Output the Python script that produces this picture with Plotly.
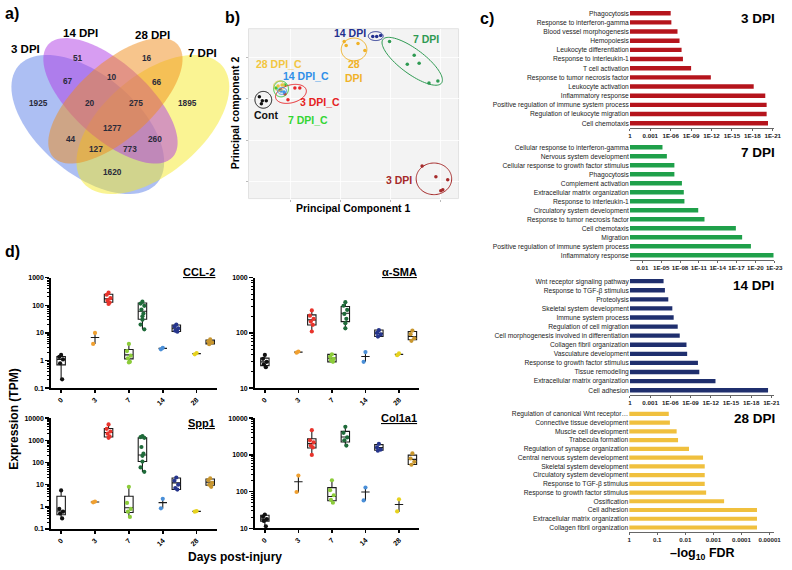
import numpy as np
import plotly.graph_objects as go

W, H = 792, 570
FONT = "Liberation Sans"


def fx(x):
    return x / W


def fy(y):
    return 1 - y / H


# ------------------------------------------------------------------ data
# a) Venn
VENN_SETS = ["3 DPI", "14 DPI", "28 DPI", "7 DPI"]
VENN_COUNTS = [51, 16, 67, 10, 66, 1925, 20, 275, 1895, 1277, 44, 260, 127, 773, 1620]

# b) PCA (arbitrary PC units)
PCA_GROUPS = ["Cont", "3 DPI_C", "7 DPI_C", "14 DPI_C", "28 DPI_C", "3 DPI", "7 DPI", "14 DPI", "28 DPI"]
PC1_CONT, PC2_CONT = [11, 14, 18, 13], [103, 99, 99, 96]
PC1_3C, PC2_3C = [40, 47, 52, 37], [100, 112, 112, 106]
PC1_7C, PC2_7C = [28, 32, 37], [112, 110, 115]
PC1_14C, PC2_14C = [33, 36], [109, 108]
PC1_28C, PC2_28C = [30, 34], [114, 115]
PC1_3D, PC2_3D = [176, 190, 202, 197, 195], [33, 22, 19, 9, 8]
PC1_7D, PC2_7D = [143, 168, 161, 173, 183, 192], [159, 145, 136, 137, 117, 119]
PC1_14D, PC2_14D = [126, 130, 134], [164, 164, 165]
PC1_28D, PC2_28D = [97, 99, 118, 111], [159, 155, 150, 157]

# c) GO enrichment (-log10 FDR)
BAR3_TERMS = ["Phagocytosis", "Response to interferon-gamma", "Blood vessel morphogenesis", "Hemopoiesis",
              "Leukocyte differentiation", "Response to interleukin-1", "T cell activation",
              "Response to tumor necrosis factor", "Leukocyte activation", "Inflammatory response",
              "Positive regulation of immune system process", "Regulation of leukocyte migration",
              "Cell chemotaxis"]
BAR3_VALS = [6.0, 6.1, 7.0, 7.3, 7.6, 7.8, 9.0, 11.9, 18.2, 19.9, 20.1, 20.1, 20.3]

BAR7_TERMS = ["Cellular response to interferon-gamma", "Nervous system development",
              "Cellular response to growth factor stimulus", "Phagocytosis", "Complement activation",
              "Extracellular matrix organization", "Response to interleukin-1",
              "Circulatory system development", "Response to tumor necrosis factor", "Cell chemotaxis",
              "Migration", "Positive regulation of immune system process", "Inflammatory response"]
BAR7_VALS = [5.2, 5.9, 7.1, 7.1, 8.3, 8.6, 8.7, 10.9, 11.9, 16.9, 17.9, 19.3, 22.9]

BAR14_TERMS = ["Wnt receptor signaling pathway", "Response to TGF-β stimulus", "Proteolysis",
               "Skeletal system development", "Immune system process", "Regulation of cell migration",
               "Cell morphogenesis involved in differentiation", "Collagen fibril organization",
               "Vasculature development", "Response to growth factor stimulus", "Tissue remodeling",
               "Extracellular matrix organization", "Cell adhesion"]
BAR14_VALS = [5.0, 5.2, 5.7, 6.3, 6.5, 7.1, 7.4, 8.4, 8.5, 10.1, 10.3, 12.7, 20.5]

BAR28_TERMS = ["Regulation of canonical Wnt receptor…", "Connective tissue development",
               "Muscle cell development", "Trabecula formation", "Regulation of synapse organization",
               "Central nervous system development", "Skeletal system development",
               "Circulatory system development", "Response to TGF-β stimulus",
               "Response to growth factor stimulus", "Ossification", "Cell adhesion",
               "Extracellular matrix organization", "Collagen fibril organization"]
BAR28_VALS = [1.41, 1.45, 1.69, 1.74, 2.13, 2.63, 2.69, 2.69, 2.69, 2.74, 3.38, 4.55, 4.55, 4.55]

TICKS_A = [0, 3, 6, 9, 12, 15, 18, 21]
TICKTEXT_A = ["1", "0.001", "1E-06", "1E-09", "1E-12", "1E-15", "1E-18", "1E-21"]
TICKS_B = [2, 5, 8, 11, 14, 17, 20, 23]
TICKTEXT_B = ["0.01", "1E-05", "1E-08", "1E-11", "1E-14", "1E-17", "1E-20", "1E-23"]
TICKS_C = [0, 1, 2, 3, 4, 5]
TICKTEXT_C = ["1", "0.1", "0.01", "0.001", "0.0001", "0.00001"]

# d) expression boxes: (lower whisker, q1, median, q3, upper whisker)
DAY_LABELS = ["0", "3", "7", "14", "28"]
BOX_GROUPS = ["0", "3 C", "3", "7 C", "7", "14 C", "14", "28 C", "28"]
CCL2_STATS = [(0.21, 0.7, 1.1, 1.4, 1.6), (4.0, 6.8, 6.8, 6.8, 10), (112, 128, 170, 250, 290),
              (0.83, 1.15, 1.6, 2.5, 4.0), (13.5, 31, 61, 120, 138), (2.5, 2.75, 2.75, 2.75, 2.9),
              (10.4, 11.2, 14.8, 19.4, 20.5), (1.65, 1.78, 1.78, 1.78, 1.9), (3.7, 4.0, 4.7, 5.5, 5.9)]
CCL2_PTS = [[1.6, 1.35, 1.1, 0.8, 0.21], [10, 4.0], [285, 240, 180, 150, 125, 112],
            [4.0, 2.2, 1.5, 1.2, 0.9, 0.85], [135, 115, 95, 70, 50, 40, 30, 20, 13.5], [2.9, 2.55],
            [20, 17, 14.5, 12, 11], [1.88, 1.68], [5.8, 5.0, 4.5, 3.9]]
ASMA_STATS = [(23, 25.6, 30, 35, 41), (44, 45, 45, 45, 46), (106, 139, 172, 212, 260),
              (29.5, 30, 35, 41, 42), (121, 160, 227, 300, 370), (30, 37.5, 37.5, 37.5, 46),
              (82, 86, 98, 113, 116), (39, 41, 41, 41, 43), (70, 75, 86, 106, 113)]
ASMA_PTS = [[40, 34, 30, 27, 24], [46, 44], [255, 205, 180, 160, 140, 106], [41, 37, 34, 32, 30],
            [360, 310, 260, 220, 180, 150, 121], [45, 30], [112, 100, 94, 86], [42.5, 39.5],
            [110, 95, 80, 72]]
SPP1_STATS = [(0.3, 0.44, 0.65, 3.0, 6.0), (1.55, 1.66, 1.66, 1.66, 1.75), (1280, 1420, 2240, 3400, 5600),
              (0.33, 0.55, 0.9, 3.0, 8.5), (37, 110, 218, 1290, 1580), (0.83, 1.55, 1.55, 1.55, 2.4),
              (5.5, 6.0, 12, 20, 22), (0.58, 0.62, 0.62, 0.62, 0.66), (7.7, 9.4, 13, 18, 20)]
SPP1_PTS = [[5.5, 0.8, 0.6, 0.5, 0.3], [1.72, 1.6], [5200, 3300, 2500, 2000, 1500, 1300],
            [8, 1.5, 0.8, 0.6, 0.35], [1550, 1400, 1300, 500, 250, 200, 110, 60, 38], [2.3, 0.85],
            [21, 15, 10, 7, 6], [0.64, 0.6], [19, 16, 12, 10, 8]]
COL1_STATS = [(11, 15.8, 18, 23, 24.5), (95, 187, 187, 187, 282), (985, 1550, 2030, 2760, 4950),
              (47, 57, 74, 129, 210), (1770, 2250, 3080, 4370, 6100), (57, 98, 98, 98, 132),
              (1270, 1340, 1580, 1910, 2050), (28, 45, 45, 45, 65), (510, 550, 755, 985, 1150)]
COL1_PTS = [[24, 21, 18, 16, 11.5], [275, 98], [4700, 2500, 2200, 1800, 1600, 1000],
            [205, 110, 80, 60, 50], [5800, 4000, 3000, 2500, 1800], [130, 58],
            [2000, 1600, 1400, 1300], [62, 29], [1100, 800, 650, 540]]

# ------------------------------------------------------------------ helpers
fig = go.Figure()
annotations = []
shapes = []


def ann(text, x, y, size, color="black", bold=True, xanchor="center", yanchor="middle", textangle=0):
    annotations.append(dict(text=text, x=fx(x), y=fy(y), xref="paper", yref="paper", showarrow=False,
                            font=dict(family=FONT, size=size, color=color,
                                      weight="bold" if bold else "normal"),
                            xanchor=xanchor, yanchor=yanchor, textangle=textangle))


def ellipse_pts(cx, cy, a, b, ang_deg, n=90):
    t = np.linspace(0, 2 * np.pi, n, endpoint=False)
    th = np.radians(ang_deg)
    xs = cx + a * np.cos(t) * np.cos(th) - b * np.sin(t) * np.sin(th)
    ys = cy + a * np.cos(t) * np.sin(th) + b * np.sin(t) * np.cos(th)
    return xs, ys


def path_from(xs, ys):
    return "M" + " L".join(f"{x:.5f},{y:.5f}" for x, y in zip(xs, ys)) + " Z"


# ------------------------------------------------------------------ a) Venn
venn_shapes = [  # cx, cy, a, b, angle(screen), colour
    (87, 122, 92, 50, 40, "#5b7fe8"),
    (153, 122, 92, 50, -40, "#f5ea28"),
    (110, 98, 85, 38, 42, "#b03ce6"),
    (115, 98, 85, 38, -42, "#f08c1a"),
]
for cx, cy, a, b, ang, col in venn_shapes:
    xs, ys = ellipse_pts(cx, cy, a, b, ang)
    shapes.append(dict(type="path", xref="paper", yref="paper",
                       path=path_from([fx(v) for v in xs], [fy(v) for v in ys]),
                       fillcolor=col, opacity=0.5, line=dict(width=0)))

venn_count_pos = [(77, 55), (147, 55), (67, 78), (112, 74), (157, 79), (37, 100), (89, 100), (136, 100),
                  (188, 100), (112, 126), (70, 137), (155, 137), (95, 147), (130, 147), (112, 170)]
for c, (x, y) in zip(VENN_COUNTS, venn_count_pos):
    ann(str(c), x, y, 8.3, color="#2a2a3a")
venn_label_pos = [(24, 46), (80, 29), (153, 31), (203, 50)]
for lab, (x, y) in zip(VENN_SETS, venn_label_pos):
    ann(lab, x, y, 11.5)

# ------------------------------------------------------------------ b) PCA
pca_data = [
    ("Cont", PC1_CONT, PC2_CONT, "#111111"),
    ("3 DPI_C", PC1_3C, PC2_3C, "#e8262a"),
    ("7 DPI_C", PC1_7C, PC2_7C, "#3bc43b"),
    ("28 DPI_C", PC1_28C, PC2_28C, "#e8c440"),
    ("14 DPI_C", PC1_14C, PC2_14C, "#3a96e8"),
    ("3 DPI", PC1_3D, PC2_3D, "#a52a2a"),
    ("7 DPI", PC1_7D, PC2_7D, "#2e9a52"),
    ("14 DPI", PC1_14D, PC2_14D, "#22308f"),
    ("28 DPI", PC1_28D, PC2_28D, "#f0b228"),
]
pca_ellipses = {  # cx, cy, rx, ry, angle (data space)
    "Cont": (15, 100, 8.5, 8.5, 0), "3 DPI_C": (43, 106, 16, 9, 15), "7 DPI_C": (33, 111, 7.5, 8, 0),
    "14 DPI_C": (34, 109, 4.5, 3.5, 0), "28 DPI_C": (31, 114, 5.5, 5, 0), "3 DPI": (188, 20, 18, 16, 0),
    "7 DPI": (166, 139, 37, 12.5, -36.6), "14 DPI": (129, 164.5, 7.5, 4.5, 0), "28 DPI": (107, 151, 13, 11.5, 0),
}
shapes.append(dict(type="rect", xref="paper", yref="paper", x0=fx(250), x1=fx(463), y0=fy(197), y1=fy(25),
                   fillcolor="#f3f3f3", line=dict(color="#e2e2e2", width=1), layer="below"))
for name, p1, p2, col in pca_data:
    cx, cy, rx, ry, ang = pca_ellipses[name]
    xs, ys = ellipse_pts(cx, cy, rx, ry, ang)
    shapes.append(dict(type="path", xref="x", yref="y", path=path_from(xs, ys),
                       line=dict(color=col, width=1)))
    fig.add_trace(go.Scatter(x=p1, y=p2, mode="markers", xaxis="x", yaxis="y", showlegend=False,
                             marker=dict(size=3.5, color=col), hoverinfo="skip"))

pca_labels = [("14 DPI", 353, 29, "#22308f"), ("7 DPI", 430, 35, "#2e9a52"), ("28 DPI_C", 281, 61, "#f2c640"),
              ("14 DPI_C", 308, 73, "#2f8fe8"), ("28<br>DPI", 357, 68, "#f0b228"), ("3 DPI_C", 322, 99, "#e52222"),
              ("Cont", 268, 112, "#111111"), ("7 DPI_C", 310, 117, "#33d633"), ("3 DPI", 403, 178, "#a52a2a")]
for t, x, y, c in pca_labels:
    ann(t, x, y, 10.5, color=c)
ann("Principal component 2", 236, 110, 10.5, textangle=-90)
ann("Principal Component 1", 356, 207, 10.5)

# ------------------------------------------------------------------ c) bar charts
bar_specs = [
    ("2", BAR3_TERMS, BAR3_VALS, "#b5141c", (4.7, 125.3), (636.7, 783), 21.2, TICKS_A, TICKTEXT_A, "3 DPI", (767, 15)),
    ("3", BAR7_TERMS, BAR7_VALS, "#1fa04a", (140.5, 258.9), (636.7, 783), 23.0, TICKS_B, TICKTEXT_B, "7 DPI", (767, 150)),
    ("4", BAR14_TERMS, BAR14_VALS, "#1f2f6e", (276, 395.6), (636.7, 783), 21.4, TICKS_A, TICKTEXT_A, "14 DPI", (762, 285)),
    ("5", BAR28_TERMS, BAR28_VALS, "#f0c03e", (410.6, 534.4), (636, 783), 5.16, TICKS_C, TICKTEXT_C, "28 DPI", (763, 420)),
]
layout_axes = {}
for k, terms, vals, col, (yt, yb), (x0, x1), xmax, tv, tt, title, (tx, ty) in bar_specs:
    fig.add_trace(go.Bar(x=vals, y=terms, orientation="h", marker=dict(color=col, line=dict(width=0)),
                         width=0.48, xaxis="x" + k, yaxis="y" + k, showlegend=False, hoverinfo="skip"))
    layout_axes["xaxis" + k] = dict(domain=[fx(x0), fx(x1)], range=[0, xmax], anchor="y" + k,
                                    tickmode="array", tickvals=tv, ticktext=tt, tickangle=0,
                                    showline=True, linecolor="#666", linewidth=1, ticks="outside",
                                    ticklen=2, tickcolor="#666", showgrid=False, zeroline=False,
                                    tickfont=dict(family=FONT, size=6.2, color="#222", weight="bold"))
    layout_axes["yaxis" + k] = dict(domain=[fy(yb), fy(yt)], anchor="x" + k, type="category",
                                    categoryorder="array", categoryarray=terms, autorange="reversed",
                                    showline=False, ticks="", showgrid=False,
                                    tickfont=dict(family=FONT, size=6.7, color="#222"))
    ann(title, tx, ty, 13.5)
ann("–log<sub>10</sub> FDR", 710, 557, 12.5)

# ------------------------------------------------------------------ d) box plots
box_pos = [0, 1, 1.4, 2, 2.4, 3, 3.4, 4, 4.4]
box_cols = ["#111111", "#f0a030", "#e8342c", "#8ccc3a", "#1f6b3a", "#4a8fd8", "#26358c", "#e6d21e", "#c8962e"]
jit = [0, -0.055, 0.055, -0.03, 0.03, 0.0]
box_specs = [
    ("6", "CCL-2", CCL2_STATS, CCL2_PTS, (50, 218), (277, 389), (-1, 3), (218, 271)),
    ("7", "α-SMA", ASMA_STATS, ASMA_PTS, (256.7, 423), (277, 389), (1, 3), (423, 271)),
    ("8", "Spp1", SPP1_STATS, SPP1_PTS, (50, 218), (419.3, 531.5), (-1, 4), (218, 424)),
    ("9", "Col1a1", COL1_STATS, COL1_PTS, (256.7, 423), (419.3, 531), (1, 4), (423, 419)),
]
for k, title, stats, pts, (x0, x1), (yt, yb), (lo, hi), (tx, ty) in box_specs:
    for i, (st, pp) in enumerate(zip(stats, pts)):
        lf, q1, med, q3, uf = st
        fig.add_trace(go.Box(x=[box_pos[i]], q1=[q1], median=[med], q3=[q3], lowerfence=[lf],
                             upperfence=[uf], width=0.25, whiskerwidth=0, boxpoints=False,
                             line=dict(color="#1a1a1a", width=1.1), fillcolor="rgba(255,255,255,0)",
                             xaxis="x" + k, yaxis="y" + k, showlegend=False, hoverinfo="skip"))
        fig.add_trace(go.Scatter(x=[box_pos[i] + jit[j % len(jit)] for j in range(len(pp))], y=pp,
                                 mode="markers", marker=dict(size=4.2, color=box_cols[i]),
                                 xaxis="x" + k, yaxis="y" + k, showlegend=False, hoverinfo="skip"))
    major = [10 ** e for e in range(lo, hi + 1)]
    major_txt = [("%g" % v) for v in major]
    minor = [m * 10 ** e for e in range(lo, hi) for m in range(2, 10)]
    layout_axes["xaxis" + k] = dict(domain=[fx(x0), fx(x1)], range=[-0.29, 4.6], anchor="y" + k,
                                    tickmode="array", tickvals=[0, 1, 2, 3, 4], ticktext=DAY_LABELS,
                                    tickangle=-45, showline=True, linecolor="black", linewidth=2,
                                    ticks="outside", ticklen=3, tickwidth=1.5, tickcolor="black",
                                    showgrid=False, zeroline=False,
                                    tickfont=dict(family=FONT, size=7, color="black", weight="bold"))
    layout_axes["yaxis" + k] = dict(domain=[fy(yb), fy(yt)], type="log", range=[lo, hi], anchor="x" + k,
                                    tickmode="array", tickvals=major, ticktext=major_txt,
                                    showline=True, linecolor="black", linewidth=2, ticks="outside",
                                    ticklen=4, tickwidth=1.5, tickcolor="black", showgrid=False,
                                    zeroline=False,
                                    minor=dict(tickmode="array", tickvals=minor, ticks="outside",
                                               ticklen=2, tickwidth=1, tickcolor="black", showgrid=False),
                                    tickfont=dict(family=FONT, size=7, color="black", weight="bold"))
    ann("<u>" + title + "</u>", tx, ty, 11, xanchor="right")

ann("Expression (TPM)", 12, 420, 12, textangle=-90)
ann("Days post-injury", 236, 560, 12)

# panel letters
ann("a)", 1, 10, 16, xanchor="left")
ann("b)", 224, 14, 16, xanchor="left")
ann("c)", 483, 15, 16, xanchor="left")
ann("d)", 1, 251, 16, xanchor="left")

layout_axes["xaxis"] = dict(domain=[fx(250), fx(463)], range=[0, 213], anchor="y", showticklabels=False,
                            tickmode="array", tickvals=[43, 93, 144, 195], ticks="outside", ticklen=2,
                            tickcolor="#bbbbbb", showgrid=True, gridcolor="#ffffff", gridwidth=0.8,
                            zeroline=False, showline=False)
layout_axes["yaxis"] = dict(domain=[fy(197), fy(25)], range=[0, 172], anchor="x", showticklabels=False,
                            tickmode="array", tickvals=[17, 59, 101, 143], ticks="outside", ticklen=2,
                            tickcolor="#bbbbbb", showgrid=True, gridcolor="#ffffff", gridwidth=0.8,
                            zeroline=False, showline=False)

fig.update_layout(width=W, height=H, margin=dict(l=0, r=0, t=0, b=0), paper_bgcolor="white",
                  plot_bgcolor="rgba(0,0,0,0)", font=dict(family=FONT, color="black"),
                  annotations=annotations, shapes=shapes, showlegend=False, bargap=0.5,
                  hovermode=False, **layout_axes)

fig.write_html("out.html", config={"displayModeBar": False, "staticPlot": True},
               post_script="document.body.style.margin='0';document.body.style.overflow='hidden';")
